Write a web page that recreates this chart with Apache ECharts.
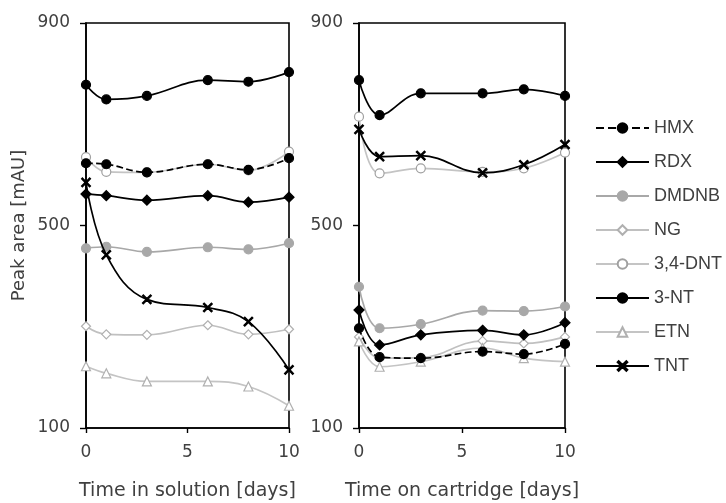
<!DOCTYPE html>
<html>
<head>
<meta charset="utf-8">
<script src="https://cdn.jsdelivr.net/npm/echarts@6/dist/echarts.min.js"></script>
<style>
  html, body { margin: 0; padding: 0; background: #fff; }
  #chart { width: 726px; height: 503px; }
</style>
</head>
<body>
<div id="chart"></div>
<script>
// days sampled
var days = [0, 1, 3, 6, 8, 10];
var names = ['HMX', 'RDX', 'DMDNB', 'NG', '3,4-DNT', '3-NT', 'ETN', 'TNT'];

// time in solution (left panel)
var solHMX = [623, 621, 605, 621, 610, 633];
var solRDX = [562, 559, 550, 559, 546, 556];
var solDMDNB = [455, 458, 448, 457, 453, 465];
var solNG = [301, 285, 284, 303, 285, 295];
var solDNT = [635, 606, 605, 621, 609, 646];
var sol3NT = [778, 749, 756, 787, 784, 803];
var solETN = [222, 208, 192, 192, 182, 144];
var solTNT = [585, 442, 354, 338, 310, 215];

// time on cartridge (right panel)
var carHMX = [297, 240, 238, 251, 246, 266];
var carRDX = [333, 264, 284, 293, 284, 308];
var carDMDNB = [379, 297, 305, 332, 331, 340];
var carNG = [280, 238, 239, 272, 267, 280];
var carDNT = [715, 603, 613, 606, 613, 644];
var car3NT = [787, 718, 761, 761, 769, 756];
var carETN = [271, 221, 231, 258, 238, 231];
var carTNT = [690, 636, 638, 604, 620, 660];

var font = 'DejaVu Sans';
var font2 = 'Liberation Sans';
var txt = '#404040';
var cross = 'path://M0,1L1,0L5,4L9,0L10,1L6,5L10,9L9,10L5,6L1,10L0,9L4,5Z';

// look of each compound
var looks = {
  'HMX': { line: '#000', type: 'dashed', symbol: 'circle', fill: '#000', border: '#000', size: 9 },
  'RDX': { line: '#000', type: 'solid', symbol: 'diamond', fill: '#000', border: '#000', size: 10 },
  'DMDNB': { line: '#a8a8a8', type: 'solid', symbol: 'circle', fill: '#a8a8a8', border: '#a8a8a8', size: 9 },
  'NG': { line: '#c0c0c0', type: 'solid', symbol: 'diamond', fill: '#fff', border: '#b0b0b0', size: 9 },
  '3,4-DNT': { line: '#c4c4c4', type: 'solid', symbol: 'circle', fill: '#fff', border: '#a0a0a0', size: 9 },
  '3-NT': { line: '#000', type: 'solid', symbol: 'circle', fill: '#000', border: '#000', size: 9 },
  'ETN': { line: '#c4c4c4', type: 'solid', symbol: 'triangle', fill: '#fff', border: '#b0b0b0', size: 9 },
  'TNT': { line: '#000', type: 'solid', symbol: cross, fill: '#000', border: '#000', size: 9 }
};

function pairs(vals) {
  return vals.map(function (v, i) { return [days[i], v]; });
}

function mk(name, vals, idx) {
  var l = looks[name];
  return {
    name: name,
    type: 'line',
    xAxisIndex: idx,
    yAxisIndex: idx,
    data: pairs(vals),
    smooth: 0.4,
    symbol: l.symbol,
    symbolSize: l.size,
    z: l.line === '#000' ? 3 : 2,
    lineStyle: { color: l.line, width: 1.7, type: l.type },
    itemStyle: { color: l.fill, borderColor: l.border, borderWidth: 1.2 },
    emphasis: { disabled: true }
  };
}

function xAx(idx, title) {
  return {
    type: 'value', gridIndex: idx, min: 0, max: 10, interval: 5,
    name: title, nameLocation: 'middle', nameGap: 54,
    nameTextStyle: { fontFamily: font, fontSize: 19, color: txt },
    axisLine: { show: true, onZero: false, lineStyle: { color: '#000', width: 1.6 } },
    axisTick: { show: true, length: 5, lineStyle: { color: '#000', width: 1.4 } },
    axisLabel: { fontFamily: font, fontSize: 17, color: txt, margin: 16 },
    splitLine: { show: false }
  };
}

function yAx(idx, title) {
  return {
    type: 'value', gridIndex: idx, min: 100, max: 900, interval: 400,
    name: title, nameLocation: 'middle', nameGap: 58,
    nameTextStyle: { fontFamily: font, fontSize: 18, color: txt },
    axisLine: { show: true, onZero: false, lineStyle: { color: '#000', width: 1.6 } },
    axisTick: { show: true, length: 6, lineStyle: { color: '#000', width: 1.4 } },
    axisLabel: { fontFamily: font, fontSize: 17, color: txt, margin: 16 },
    splitLine: { show: false }
  };
}

var sol = [solHMX, solRDX, solDMDNB, solNG, solDNT, sol3NT, solETN, solTNT];
var car = [carHMX, carRDX, carDMDNB, carNG, carDNT, car3NT, carETN, carTNT];
var series = [];
names.forEach(function (n, i) { series.push(mk(n, sol[i], 0)); });
names.forEach(function (n, i) { series.push(mk(n, car[i], 1)); });

var chart = echarts.init(document.getElementById('chart'));
chart.setOption({
  animation: false,
  backgroundColor: '#fff',
  grid: [
    { left: 86, right: 437, top: 23, bottom: 75, outerBoundsMode: 'none', show: true, borderColor: '#000', borderWidth: 1.6 },
    { left: 359, right: 161, top: 23, bottom: 75, outerBoundsMode: 'none', show: true, borderColor: '#000', borderWidth: 1.6 }
  ],
  legend: {
    data: names,
    orient: 'vertical',
    left: 590,
    top: 114,
    itemWidth: 53,
    itemHeight: 12,
    itemGap: 16,
    textStyle: { fontFamily: font2, fontSize: 18, color: txt }
  },
  xAxis: [xAx(0, 'Time in solution [days]'), xAx(1, 'Time on cartridge [days]')],
  yAxis: [yAx(0, 'Peak area [mAU]'), yAx(1, '')],
  series: series
});
</script>
</body>
</html>
